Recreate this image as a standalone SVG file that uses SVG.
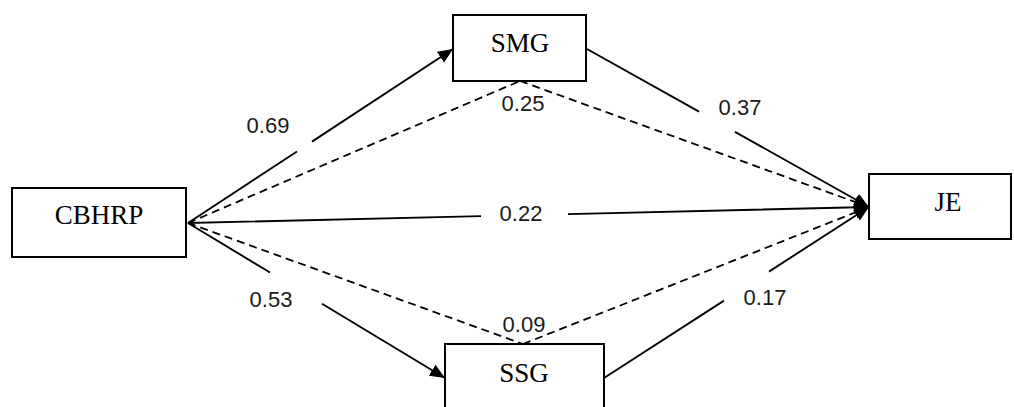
<svg xmlns="http://www.w3.org/2000/svg" width="1014" height="407" viewBox="0 0 1014 407">
  <style>
    .box { fill: #ffffff; stroke: #000000; stroke-width: 2; }
    .name { font-family: "Liberation Serif", "Times New Roman", serif; font-size: 27px; fill: #000000; text-anchor: middle; }
    .coef { font-family: "Liberation Sans", Arial, sans-serif; font-size: 22px; fill: #1a1a1a; text-anchor: middle; }
    .direct { fill: none; stroke: #000000; stroke-width: 1.9; marker-end: url(#head); }
    .indirect { fill: none; stroke: #000000; stroke-width: 1.8; stroke-dasharray: 8 5; }
    .indirect.to { marker-end: url(#head); }
  </style>
  <defs>
    <marker id="head" markerUnits="userSpaceOnUse" markerWidth="16" markerHeight="14" refX="15" refY="6.5" orient="auto">
      <path d="M0,0 L15,6.5 L0,13 z" fill="#000000"/>
    </marker>
  </defs>
  <rect width="1014" height="407" fill="#ffffff"/>

  <!-- connectors -->
  <g id="connectors">
    <!-- direct paths (solid), broken where the coefficient sits -->
    <path class="direct" d="M188,223 L297,151.5 M312,141.6 L453,49"/>
    <path class="direct" d="M587,49 L699,111.7 M735,131.9 L869,207"/>
    <path class="direct" d="M188,223 L481,216.1 M568,214.1 L869,207"/>
    <path class="direct" d="M188,223 L270,272.5 M322,303.8 L445,378"/>
    <path class="direct" d="M604,378 L724,300.6 M769,271.6 L869,207"/>
    <!-- mediated paths (dashed) -->
    <path class="indirect" d="M188,223 L520,81"/>
    <path class="indirect to" d="M520,81 L869,207"/>
    <path class="indirect" d="M188,223 L523,344"/>
    <path class="indirect to" d="M523,344 L869,207"/>
  </g>

  <!-- path coefficients -->
  <g id="coefficients">
    <text class="coef" x="268" y="133">0.69</text>
    <text class="coef" x="523" y="111">0.25</text>
    <text class="coef" x="740" y="115">0.37</text>
    <text class="coef" x="521" y="221">0.22</text>
    <text class="coef" x="271" y="307">0.53</text>
    <text class="coef" x="765" y="305">0.17</text>
    <text class="coef" x="524" y="332">0.09</text>
  </g>

  <g id="CBHRP">
    <rect class="box" x="12" y="188" width="174" height="69"/>
    <text class="name" x="99" y="224">CBHRP</text>
  </g>
  <g id="SMG">
    <rect class="box" x="453" y="15" width="133" height="66"/>
    <text class="name" x="520" y="52">SMG</text>
  </g>
  <g id="JE">
    <rect class="box" x="869" y="174" width="142" height="65"/>
    <text class="name" x="948" y="211">JE</text>
  </g>
  <g id="SSG">
    <rect class="box" x="445" y="344" width="159" height="70"/>
    <text class="name" x="524" y="382">SSG</text>
  </g>
</svg>
